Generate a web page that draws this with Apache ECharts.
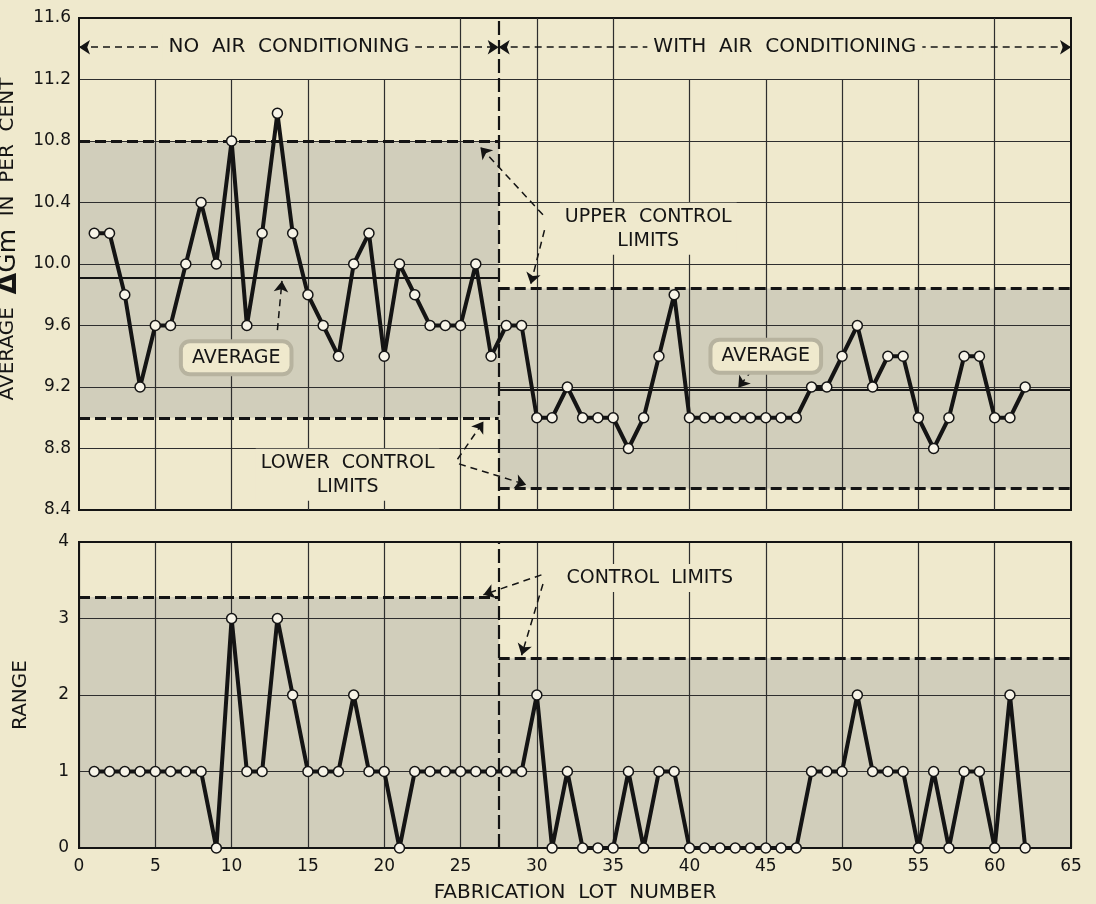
<!DOCTYPE html>
<html>
<head>
<meta charset="utf-8">
<script src="https://cdn.jsdelivr.net/npm/echarts/dist/echarts.min.js"></script>
<style>
html,body{margin:0;padding:0;background:#efe9cd;}
#c{width:1096px;height:904px;}
</style>
</head>
<body>
<div id="c"></div>
<script>
// ---------- data ----------
const lots = [1,2,3,4,5,6,7,8,9,10,11,12,13,14,15,16,17,18,19,20,21,22,23,24,25,26,27,28,29,30,31,32,33,34,35,36,37,38,39,40,41,42,43,44,45,46,47,48,49,50,51,52,53,54,55,56,57,58,59,60,61,62];
const avgDeltaGm = [10.2,10.2,9.8,9.2,9.6,9.6,10.0,10.4,10.0,10.8,
                    9.6,10.2,10.98,10.2,9.8,9.6,9.4,10.0,10.2,9.4,
                    10.0,9.8,9.6,9.6,9.6,10.0,9.4,9.6,9.6,9.0,
                    9.0,9.2,9.0,9.0,9.0,8.8,9.0,9.4,9.8,9.0,
                    9.0,9.0,9.0,9.0,9.0,9.0,9.0,9.2,9.2,9.4,
                    9.6,9.2,9.4,9.4,9.0,8.8,9.0,9.4,9.4,9.0,
                    9.0,9.2];
const rangeValues = [1,1,1,1,1,1,1,1,0,3,
                     1,1,3,2,1,1,1,2,1,1,
                     0,1,1,1,1,1,1,1,1,2,
                     0,1,0,0,0,1,0,1,1,0,
                     0,0,0,0,0,0,0,1,1,1,
                     2,1,1,1,0,1,0,1,1,0,
                     2,0];
const xTicks = [0,5,10,15,20,25,30,35,40,45,50,55,60,65];
const headerTicks = [25,30,35,60];          // vertical rules that run up through the header strip
const periodNames = ['NO  AIR  CONDITIONING', 'WITH  AIR  CONDITIONING'];
const periodBounds = [0, 27.5, 65];
const avgUCL = [10.8, 9.84];
const avgLCL = [9.0, 8.54];
const avgMean = [9.91, 9.18];
const rangeUCL = [3.28, 2.48];
const topRange = [8.4, 11.6, 0.4, 11.2];    // min, max, step, header start
const botRange = [0, 4, 1];

// ---------- style ----------
const BG = '#efe9cd', BAND = '#d1cebb', INK = '#141414', GRIDC = '#2e2e2e';
const FONT = 'DejaVu Sans';

const chart = echarts.init(document.getElementById('c'), null, {renderer: 'canvas'});

const seg = (x1, y1, x2, y2, extra) => [Object.assign({coord: [x1, y1]}, extra || {}), {coord: [x2, y2]}];

const labelBase = {show: true, position: 'inside', color: INK, fontFamily: FONT, fontSize: 19, lineHeight: 24,
                   align: 'center', verticalAlign: 'middle', textBorderWidth: 0, opacity: 1};
const txt = (x, y, s, lab) => ({
  value: [x, y],
  label: Object.assign({}, labelBase, {formatter: s}, lab || {})
});
const haloLabel = {backgroundColor: BG, borderColor: '#b7b39f', borderWidth: 4, borderRadius: 7, padding: [3, 9, 2, 9]};
const plainLabel = {backgroundColor: BG, padding: [2, 5]};
const headLabel = {backgroundColor: BG, padding: [2, 6], fontSize: 20};

const option = {
  backgroundColor: BG,
  animation: false,
  grid: [
    {left: 79, right: 25, top: 18, height: 492, show: true, borderColor: INK, borderWidth: 2, backgroundColor: 'transparent', z: 4, containLabel: false, outerBoundsMode: 'none'},
    {left: 79, right: 25, top: 542, height: 306, show: true, borderColor: INK, borderWidth: 2, backgroundColor: 'transparent', z: 4, containLabel: false, outerBoundsMode: 'none'}
  ],
  xAxis: [
    {gridIndex: 0, type: 'value', min: xTicks[0], max: xTicks[xTicks.length - 1], interval: 5,
     axisLine: {show: false}, axisTick: {show: false}, axisLabel: {show: false}, splitLine: {show: false}},
    {gridIndex: 1, type: 'value', min: xTicks[0], max: xTicks[xTicks.length - 1], interval: 5, z: 3,
     axisLine: {show: false}, axisTick: {show: false},
     axisLabel: {color: INK, fontFamily: FONT, fontSize: 17, margin: 10},
     splitLine: {show: true, lineStyle: {color: GRIDC, width: 1.2}},
     name: 'FABRICATION  LOT  NUMBER', nameLocation: 'middle', nameGap: 35,
     nameTextStyle: {color: INK, fontFamily: FONT, fontSize: 20}}
  ],
  yAxis: [
    {gridIndex: 0, type: 'value', min: topRange[0], max: topRange[1], interval: topRange[2], z: 3,
     axisLine: {show: false}, axisTick: {show: false},
     axisLabel: {color: INK, fontFamily: FONT, fontSize: 17, margin: 8, formatter: v => v.toFixed(1)},
     splitLine: {show: true, lineStyle: {color: GRIDC, width: 1.2}},
     name: '{a|AVERAGE}  {d|Δ}{g|Gm}  {a|IN  PER  CENT}', nameLocation: 'middle', nameGap: 48, nameRotate: 90,
     nameTextStyle: {color: INK, fontFamily: FONT, fontSize: 20, padding: [0, 0, 0, 50],
       rich: {a: {fontFamily: FONT, fontSize: 20, color: INK},
              d: {fontFamily: FONT, fontSize: 28, color: INK, fontWeight: 'bold'},
              g: {fontFamily: FONT, fontSize: 25, color: INK}}}},
    {gridIndex: 1, type: 'value', min: botRange[0], max: botRange[1], interval: botRange[2], z: 3,
     axisLine: {show: false}, axisTick: {show: false},
     axisLabel: {color: INK, fontFamily: FONT, fontSize: 17, margin: 10},
     splitLine: {show: true, lineStyle: {color: GRIDC, width: 1.2}},
     name: 'RANGE', nameLocation: 'middle', nameGap: 48, nameRotate: 90,
     nameTextStyle: {color: INK, fontFamily: FONT, fontSize: 20}}
  ],
  series: [
    // shaded control bands
    {type: 'line', xAxisIndex: 0, yAxisIndex: 0, data: [], z: 1, silent: true,
     markArea: {silent: true, itemStyle: {color: BAND},
       data: [[{coord: [periodBounds[0], avgLCL[0]]}, {coord: [periodBounds[1], avgUCL[0]]}],
              [{coord: [periodBounds[1], avgLCL[1]]}, {coord: [periodBounds[2], avgUCL[1]]}]]}},
    {type: 'line', xAxisIndex: 1, yAxisIndex: 1, data: [], z: 1, silent: true,
     markArea: {silent: true, itemStyle: {color: BAND},
       data: [[{coord: [periodBounds[0], botRange[0]]}, {coord: [periodBounds[1], rangeUCL[0]]}],
              [{coord: [periodBounds[1], botRange[0]]}, {coord: [periodBounds[2], rangeUCL[1]]}]]}},
    // vertical grid rules of the upper chart (stop at the header strip)
    {type: 'line', xAxisIndex: 0, yAxisIndex: 0, data: [], z: 3, silent: true,
     markLine: {silent: true, symbol: 'none', label: {show: false},
       lineStyle: {type: 'solid', color: GRIDC, width: 1.2},
       data: xTicks.filter(x => x > xTicks[0] && x < xTicks[xTicks.length - 1])
                   .map(x => seg(x, topRange[0], x, headerTicks.includes(x) ? topRange[1] : topRange[3]))}},
    // control limits, averages, divider (upper)
    {type: 'line', xAxisIndex: 0, yAxisIndex: 0, data: [], z: 4, silent: true,
     markLine: {silent: true, symbol: 'none', label: {show: false},
       data: [
         seg(periodBounds[0], avgUCL[0], periodBounds[1], avgUCL[0], {lineStyle: {type: [11, 5], width: 3, color: INK}}),
         seg(periodBounds[0], avgLCL[0], periodBounds[1], avgLCL[0], {lineStyle: {type: [11, 5], width: 3, color: INK}}),
         seg(periodBounds[1], avgUCL[1], periodBounds[2], avgUCL[1], {lineStyle: {type: [11, 5], width: 3, color: INK}}),
         seg(periodBounds[1], avgLCL[1], periodBounds[2], avgLCL[1], {lineStyle: {type: [11, 5], width: 3, color: INK}}),
         seg(periodBounds[0], avgMean[0], periodBounds[1], avgMean[0], {lineStyle: {type: 'solid', width: 2.2, color: INK}}),
         seg(periodBounds[1], avgMean[1], periodBounds[2], avgMean[1], {lineStyle: {type: 'solid', width: 2.2, color: INK}}),
         seg(periodBounds[1], topRange[0], periodBounds[1], topRange[1], {lineStyle: {type: [14, 5], width: 2.2, color: INK}})
       ]}},
    // header arrows
    {type: 'line', xAxisIndex: 0, yAxisIndex: 0, data: [], z: 5, silent: true,
     markLine: {silent: true, symbol: ['arrow', 'arrow'], symbolSize: 11, label: {show: false},
       lineStyle: {type: [7, 5], width: 1.5, color: INK},
       data: [seg(periodBounds[0], 11.41, periodBounds[1], 11.41),
              seg(periodBounds[1], 11.41, periodBounds[2], 11.41)]}},
    // control limits, divider (lower)
    {type: 'line', xAxisIndex: 1, yAxisIndex: 1, data: [], z: 4, silent: true,
     markLine: {silent: true, symbol: 'none', label: {show: false},
       data: [
         seg(periodBounds[0], rangeUCL[0], periodBounds[1], rangeUCL[0], {lineStyle: {type: [11, 5], width: 3, color: INK}}),
         seg(periodBounds[1], rangeUCL[1], periodBounds[2], rangeUCL[1], {lineStyle: {type: [11, 5], width: 3, color: INK}}),
         seg(periodBounds[1], botRange[0], periodBounds[1], botRange[1], {lineStyle: {type: [14, 5], width: 2.2, color: INK}})
       ]}},
    // pointer arrows
    {type: 'line', xAxisIndex: 0, yAxisIndex: 0, data: [], z: 6, silent: true,
     markLine: {silent: true, symbol: ['none', 'arrow'], symbolSize: 11, label: {show: false},
       lineStyle: {type: [7, 5], width: 1.5, color: INK},
       data: [
         seg(30.4, 10.32, 26.3, 10.76, {lineStyle: {curveness: 0.25}}),
         seg(30.5, 10.22, 29.6, 9.87, {lineStyle: {curveness: -0.2}}),
         seg(13.0, 9.57, 13.3, 9.89, {lineStyle: {curveness: 0.1}}),
         seg(44.1, 9.31, 43.2, 9.195, {lineStyle: {curveness: 0}}),
         seg(24.8, 8.73, 26.5, 8.975, {lineStyle: {curveness: -0.15}}),
         seg(24.9, 8.70, 29.3, 8.565, {lineStyle: {curveness: 0.2}})
       ]}},
    {type: 'line', xAxisIndex: 1, yAxisIndex: 1, data: [], z: 6, silent: true,
     markLine: {silent: true, symbol: ['none', 'arrow'], symbolSize: 11, label: {show: false},
       lineStyle: {type: [7, 5], width: 1.5, color: INK},
       data: [
         seg(30.3, 3.57, 26.5, 3.31, {lineStyle: {curveness: 0.25}}),
         seg(30.4, 3.45, 29.0, 2.52, {lineStyle: {curveness: -0.15}})
       ]}},
    // data: average
    {name: 'Average ΔGm', type: 'line', xAxisIndex: 0, yAxisIndex: 0, z: 7, clip: false,
     data: lots.map((l, i) => [l, avgDeltaGm[i]]),
     symbol: 'circle', symbolSize: 10, showAllSymbol: true,
     lineStyle: {color: INK, width: 4},
     itemStyle: {color: '#f7f4e8', borderColor: INK, borderWidth: 1.5}},
    // data: range
    {name: 'Range', type: 'line', xAxisIndex: 1, yAxisIndex: 1, z: 7, clip: false,
     data: lots.map((l, i) => [l, rangeValues[i]]),
     symbol: 'circle', symbolSize: 10, showAllSymbol: true,
     lineStyle: {color: INK, width: 4},
     itemStyle: {color: '#f7f4e8', borderColor: INK, borderWidth: 1.5}},
    // text annotations (upper)
    {type: 'scatter', xAxisIndex: 0, yAxisIndex: 0, z: 8, silent: true, symbolSize: 0,
     itemStyle: {color: INK, opacity: 1},
     label: labelBase,
     data: [
       txt(13.75, 11.41, periodNames[0], headLabel),
       txt(46.25, 11.41, periodNames[1], headLabel),
       txt(37.3, 10.23, 'UPPER  CONTROL\nLIMITS', plainLabel),
       txt(10.3, 9.39, 'AVERAGE', haloLabel),
       txt(45.0, 9.40, 'AVERAGE', haloLabel),
       txt(17.6, 8.63, 'LOWER  CONTROL\nLIMITS', plainLabel)
     ]},
    // text annotations (lower)
    {type: 'scatter', xAxisIndex: 1, yAxisIndex: 1, z: 8, silent: true, symbolSize: 0,
     itemStyle: {color: INK, opacity: 1},
     label: labelBase,
     data: [
       txt(37.4, 3.53, 'CONTROL  LIMITS', plainLabel)
     ]}
  ]
};
chart.setOption(option);
</script>
</body>
</html>
